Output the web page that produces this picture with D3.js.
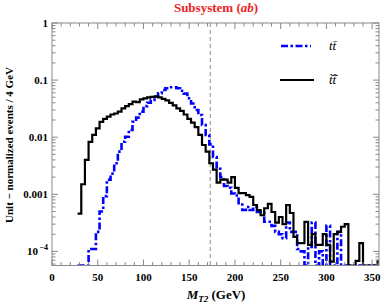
<!DOCTYPE html>
<html><head><meta charset="utf-8">
<script src="https://cdn.jsdelivr.net/npm/d3@7"></script>
<style>
body{margin:0;background:#fff;}
text{font-family:"Liberation Serif","Times New Roman",serif;}
</style></head>
<body><svg id="c" width="382" height="305"></svg>
<script>
// bin lower edges (GeV), 4 GeV bins starting at 28
const binStart = 28, binWidth = 4;
// t tbar (blue dot-dashed)
const ttbar = [0,0,0,1.1e-4,1.1e-4,2.2e-4,5e-4,9.3e-4,1.8e-3,2.3e-3,3.5e-3,5.6e-3,8.3e-3,0.0102,0.0134,0.0186,0.022,0.028,0.035,0.040,0.045,0.051,
 0.059,0.067,0.072,0.075,0.075,0.072,0.065,0.058,0.048,0.039,0.030,0.0245,0.0164,0.011,0.0075,0.0045,0.0028,0.002,0.0014,0.0013,0.00103,0.00095,0.0007,0.00053,0.0006,0.00053,
 0.0006,0.00049,0.0005,0.00033,0.00033,0.00028,0.00022,0.0002,0.00017,0.00032,0.00022,0.00022,1.1e-4,1e-4,0,1.2e-4,0.00032,0,1e-4,0,0.00028,0,0,0.00022,0,0,0,0,0,0,0,0,0,0];
// stop pair (black solid)
const stops = [4.6e-4,1.5e-3,4e-3,8.3e-3,0.011,0.0143,0.0185,0.021,0.023,0.025,0.026,0.028,0.032,0.035,0.038,0.042,0.041,0.046,0.048,0.050,0.051,0.052,
 0.050,0.047,0.044,0.040,0.036,0.032,0.029,0.025,0.021,0.018,0.015,0.011,0.0073,0.0056,0.0035,0.0027,0.0016,0.0018,0.0018,0.0016,0.002,0.0013,0.00105,0.00105,0.00097,0.0009,
 0.00065,0.00053,0.00043,0.00057,0.00068,0.00049,0.00032,0.0004,0.0003,0.00065,0.00047,0.00018,0.00014,0.00014,0.00033,0.00013,0.0002,0.00013,0.00013,0.0002,0.00013,6.6e-5,0.0002,0.00022,0.00027,0.0003,0,0,6.8e-5,1.4e-4,0,0,0,0,6.8e-5,1.4e-4];
const xTicks = [0,50,100,150,200,250,300,350];
const yTicks = [1,0.1,0.01,0.001,1e-4];
const yTickLabels = ["1","0.1","0.01","0.001","10^-4"];
const topMass = 173;

const svg = d3.select("#c");
const L=52, R=379, T=23, B=265.5;
const x = d3.scaleLinear().domain([0,357.5]).range([L,R]);
const y = d3.scaleLog().domain([Math.pow(10,-4.247),1]).range([B,T]).clamp(true);

svg.append("defs").append("clipPath").attr("id","clip")
  .append("rect").attr("x",L).attr("y",T).attr("width",R-L).attr("height",B-T);

// title
const title = svg.append("text").attr("x",216).attr("y",12).attr("text-anchor","middle")
  .attr("fill","#ee2222").attr("font-size",13).attr("font-weight","bold");
title.append("tspan").text("Subsystem (");
title.append("tspan").attr("font-style","italic").text("ab");
title.append("tspan").text(")");

// dashed vertical at top mass
svg.append("line").attr("x1",x(topMass)).attr("x2",x(topMass)).attr("y1",T).attr("y2",B)
  .attr("stroke","#888").attr("stroke-width",1).attr("stroke-dasharray","4,3");

function pts(arr){
  const p = arr.map((v,i)=>[binStart+i*binWidth, v>0?v:1e-9]);
  p.push([binStart+arr.length*binWidth, arr[arr.length-1]>0?arr[arr.length-1]:1e-9]);
  return p;
}
const line = d3.line().x(d=>x(d[0])).y(d=>y(d[1])).curve(d3.curveStepAfter);
const g = svg.append("g").attr("clip-path","url(#clip)");
g.append("path").attr("d",line(pts(ttbar))).attr("fill","none").attr("stroke","#0000ff")
  .attr("stroke-width",2.6).attr("stroke-dasharray","7,2.5,2.5,2.5");
g.append("path").attr("d",line(pts(stops))).attr("fill","none").attr("stroke","#000")
  .attr("stroke-width",2.2);

// frame
const fc="#888";
svg.append("rect").attr("x",L).attr("y",T).attr("width",R-L).attr("height",B-T)
  .attr("fill","none").attr("stroke",fc).attr("stroke-width",1);

// x ticks
const xMinor = d3.range(0,358,10);
xMinor.forEach(v=>{
  const maj = v%50===0; const len = maj?6:3.5;
  svg.append("line").attr("x1",x(v)).attr("x2",x(v)).attr("y1",B).attr("y2",B-len).attr("stroke",fc);
  svg.append("line").attr("x1",x(v)).attr("x2",x(v)).attr("y1",T).attr("y2",T+len).attr("stroke",fc);
});
xTicks.forEach(v=>{
  svg.append("text").attr("x",x(v)).attr("y",B+15).attr("text-anchor","middle")
    .attr("font-size",11).attr("font-weight","bold").text(v);
});
// y ticks
for(let e=-5;e<=0;e++){
  for(let m=1;m<=9;m++){
    const v=m*Math.pow(10,e);
    if(v< y.domain()[0] || v>1) continue;
    const len = m===1?6:3.5;
    svg.append("line").attr("x1",L).attr("x2",L+len).attr("y1",y(v)).attr("y2",y(v)).attr("stroke",fc);
    svg.append("line").attr("x1",R).attr("x2",R-len).attr("y1",y(v)).attr("y2",y(v)).attr("stroke",fc);
  }
}
yTicks.forEach((v,i)=>{
  const t = svg.append("text").attr("x",L-4).attr("y",y(v)+4).attr("text-anchor","end")
    .attr("font-size",11).attr("font-weight","bold");
  const lab = yTickLabels[i];
  if(lab.indexOf("^")>=0){
    const [b,ex]=lab.split("^");
    t.attr("x",L-14);
    t.append("tspan").text(b);
    svg.append("text").attr("x",L-4).attr("y",y(v)-1).attr("text-anchor","end")
      .attr("font-size",8).attr("font-weight","bold").text(ex.replace("-","−"));
  } else t.text(lab);
});

// axis labels
const xl = svg.append("text").attr("x",216).attr("y",299).attr("text-anchor","middle")
  .attr("font-size",13).attr("font-weight","bold");
xl.append("tspan").attr("font-style","italic").text("M");
xl.append("tspan").attr("font-style","italic").attr("font-size",9).attr("dy",3).text("T2");
xl.append("tspan").attr("dy",-3).text(" (GeV)");

svg.append("text").attr("transform","translate(13,145) rotate(-90)").attr("text-anchor","middle")
  .attr("font-size",11).attr("font-weight","bold").text("Unit − normalized events / 4 GeV");

// legend
svg.append("line").attr("x1",281).attr("x2",311).attr("y1",46).attr("y2",46)
  .attr("stroke","#0000ff").attr("stroke-width",2.6).attr("stroke-dasharray","7,2.5,2.5,2.5");
svg.append("text").attr("x",329).attr("y",50).attr("font-size",13).attr("font-style","italic").text("tt\u0304");
svg.append("line").attr("x1",280).attr("x2",314).attr("y1",80).attr("y2",80)
  .attr("stroke","#000").attr("stroke-width",2.2);
svg.append("text").attr("x",329).attr("y",84).attr("font-size",13).attr("font-style","italic").text("t\u0303t\u0303\u0304");
</script></body></html>
